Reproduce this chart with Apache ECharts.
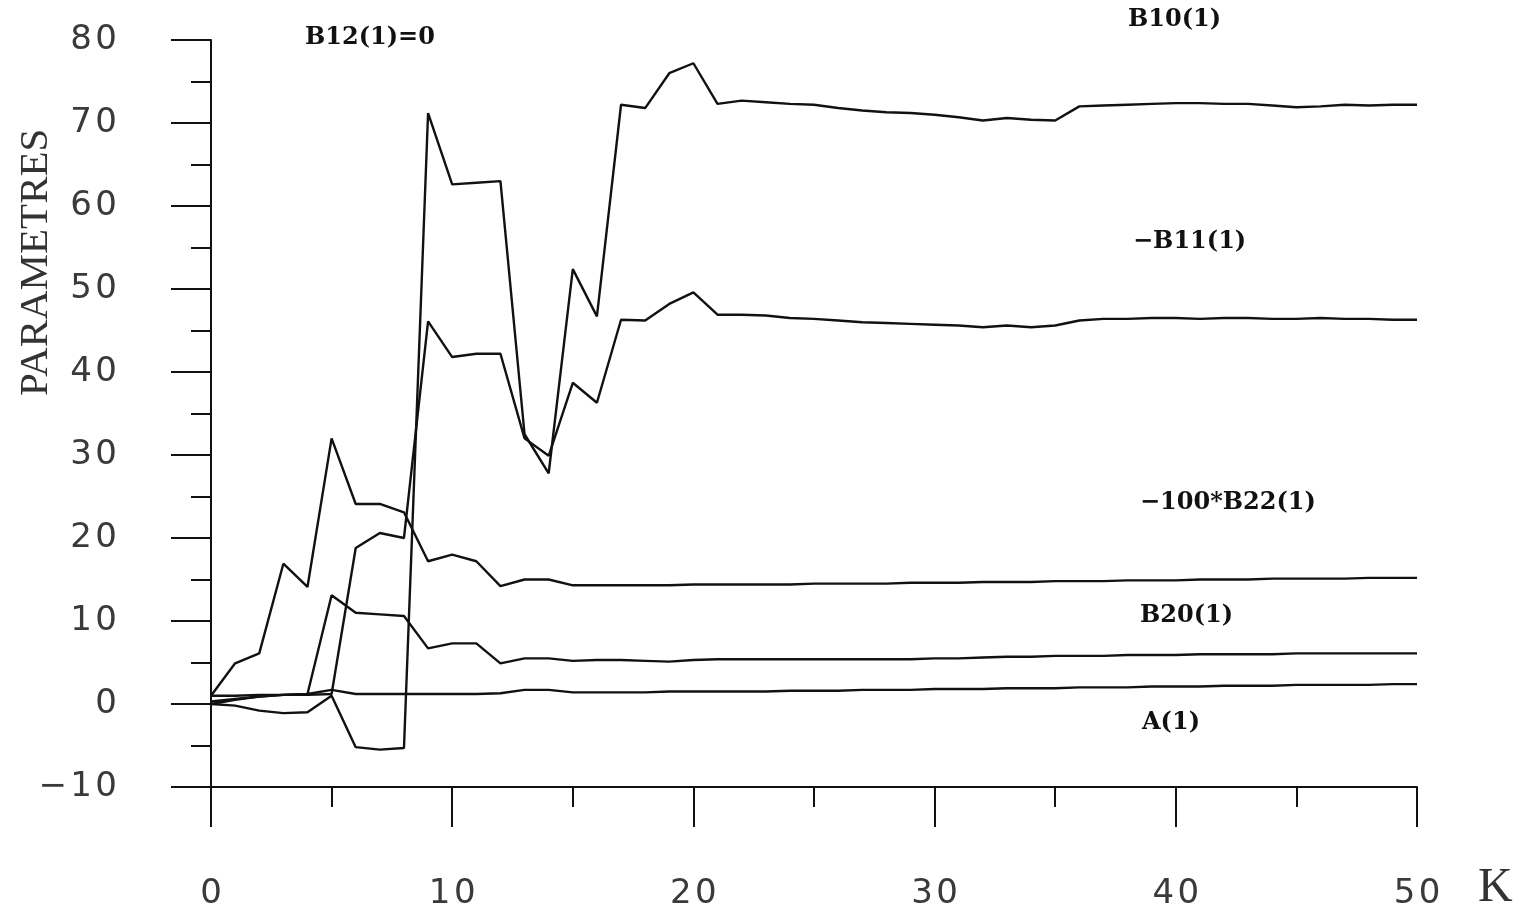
<!DOCTYPE html>
<html>
<head>
<meta charset="utf-8">
<script src="https://cdn.jsdelivr.net/npm/echarts@6/dist/echarts.min.js"></script>
<style>
html,body{margin:0;padding:0;background:#fff;}
#chart{width:1524px;height:916px;}
</style>
</head>
<body>
<div id="chart"></div>
<script>
// K values (iteration index)
const K = [0,1,2,3,4,5,6,7,8,9,10,11,12,13,14,15,16,17,18,19,20,21,22,23,24,25,26,27,28,29,30,31,32,33,34,35,36,37,38,39,40,41,42,43,44,45,46,47,48,49,50];

// B10(1)
const B10 = [0,-0.2,-0.8,-1.1,-1.0,1.0,-5.2,-5.5,-5.3,71.2,62.6,62.8,63.0,32.5,27.8,52.4,46.7,72.2,71.8,76.0,77.2,72.3,72.7,72.5,72.3,72.2,71.8,71.5,71.3,71.2,71.0,70.7,70.3,70.6,70.4,70.3,72.0,72.1,72.2,72.3,72.4,72.4,72.3,72.3,72.1,71.9,72.0,72.2,72.1,72.2,72.2];

// -B11(1)
const mB11 = [0,0.5,0.9,1.1,1.1,1.2,18.8,20.6,20.0,46.1,41.8,42.2,42.2,32.0,29.9,38.7,36.3,46.3,46.2,48.2,49.6,46.9,46.9,46.8,46.5,46.4,46.2,46.0,45.9,45.8,45.7,45.6,45.4,45.6,45.4,45.6,46.2,46.4,46.4,46.5,46.5,46.4,46.5,46.5,46.4,46.4,46.5,46.4,46.4,46.3,46.3];

// -100*B22(1)
const m100B22 = [1.0,4.9,6.1,16.9,14.1,32.0,24.1,24.1,23.1,17.2,18.0,17.2,14.2,15.0,15.0,14.3,14.3,14.3,14.3,14.3,14.4,14.4,14.4,14.4,14.4,14.5,14.5,14.5,14.5,14.6,14.6,14.6,14.7,14.7,14.7,14.8,14.8,14.8,14.9,14.9,14.9,15.0,15.0,15.0,15.1,15.1,15.1,15.1,15.2,15.2,15.2];

// B20(1)
const B20 = [0.3,0.6,0.9,1.1,1.2,13.1,11.0,10.8,10.6,6.7,7.3,7.3,4.9,5.5,5.5,5.2,5.3,5.3,5.2,5.1,5.3,5.4,5.4,5.4,5.4,5.4,5.4,5.4,5.4,5.4,5.5,5.5,5.6,5.7,5.7,5.8,5.8,5.8,5.9,5.9,5.9,6.0,6.0,6.0,6.0,6.1,6.1,6.1,6.1,6.1,6.1];

// A(1)
const A1 = [1.0,1.0,1.1,1.1,1.2,1.7,1.2,1.2,1.2,1.2,1.2,1.2,1.3,1.7,1.7,1.4,1.4,1.4,1.4,1.5,1.5,1.5,1.5,1.5,1.6,1.6,1.6,1.7,1.7,1.7,1.8,1.8,1.8,1.9,1.9,1.9,2.0,2.0,2.0,2.1,2.1,2.1,2.2,2.2,2.2,2.3,2.3,2.3,2.3,2.4,2.4];

const seriesNames = ['B10(1)','-B11(1)','-100*B22(1)','B20(1)','A(1)'];
const seriesValues = [B10, mB11, m100B22, B20, A1];

// annotation texts
const labelTexts = ['B12(1)=0','B10(1)','\u2212B11(1)','\u2212100*B22(1)','B20(1)','A(1)'];
const yAxisTitle = 'PARAMETRES';
const xAxisTitle = 'K';

const chart = echarts.init(document.getElementById('chart'), null, {renderer:'canvas'});

const lineCol = '#111';
const tickFont = {fontFamily:'DejaVu Sans', fontSize:34, color:'#3a3a3a', fontWeight:'normal'};
const spaced = v => String(v).replace('-', '\u2212').split('').join('\u200A');

const series = seriesValues.map((vals, i) => ({
  name: seriesNames[i],
  type: 'line',
  data: K.map((k, j) => [k, vals[j]]),
  showSymbol: false,
  symbol: 'none',
  lineStyle: {color: lineCol, width: 2.4},
  z: 3
}));

const annPos = [[305,40],[1128,22],[1133,244],[1140,505],[1140,618],[1142,725]];

const graphic = labelTexts.map((t, i) => ({
  type: 'text',
  left: annPos[i][0],
  top: annPos[i][1] - 14,
  style: {text: t, font: 'bold 24px "DejaVu Serif"', fill: '#111'}
}));
graphic.push({
  type: 'text',
  x: 16, y: 396,
  rotation: Math.PI/2,
  style: {text: yAxisTitle, font: '41px "Liberation Serif"', fill: '#333', textVerticalAlign: 'top'}
});
graphic.push({
  type: 'text',
  left: 1478, top: 864,
  style: {text: xAxisTitle, font: '48px "Liberation Serif"', fill: '#333'}
});

chart.setOption({
  animation: false,
  backgroundColor: '#fff',
  grid: {left: 211, right: 107, top: 40, bottom: 129, containLabel: false},
  xAxis: {
    type: 'value', min: 0, max: 50, interval: 10,
    axisLine: {show: true, onZero: false, lineStyle: {color: lineCol, width: 2}},
    axisTick: {show: true, length: 40, lineStyle: {color: lineCol, width: 2}},
    minorTick: {show: true, splitNumber: 2, length: 20, lineStyle: {color: lineCol, width: 2}},
    splitLine: {show: false},
    axisLabel: Object.assign({margin: 90, formatter: spaced}, tickFont)
  },
  yAxis: {
    type: 'value', min: -10, max: 80, interval: 10,
    axisLine: {show: true, onZero: false, lineStyle: {color: lineCol, width: 2}},
    axisTick: {show: true, length: 40, lineStyle: {color: lineCol, width: 2}},
    minorTick: {show: true, splitNumber: 2, length: 20, lineStyle: {color: lineCol, width: 2}},
    splitLine: {show: false},
    axisLabel: Object.assign({margin: 94, formatter: spaced}, tickFont)
  },
  series: series,
  graphic: graphic
});
</script>
</body>
</html>
